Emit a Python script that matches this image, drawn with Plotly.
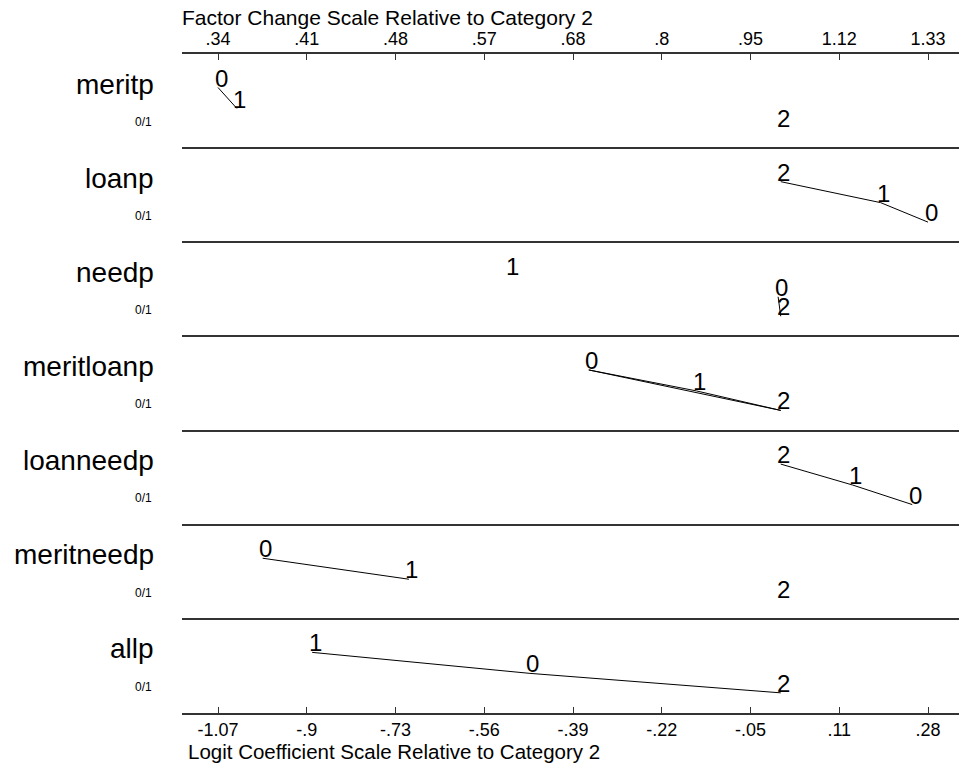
import numpy as np
import plotly.graph_objects as go

# ---------------- data ----------------
variables = ["meritp", "loanp", "needp", "meritloanp", "loanneedp", "meritneedp", "allp"]
units = ["0/1", "0/1", "0/1", "0/1", "0/1", "0/1", "0/1"]
categories = ["0", "1", "2"]
coef_cat0 = [-1.07, 0.28, -0.005, -0.365, 0.25, -0.985, -0.477]
coef_cat1 = [-1.034, 0.19, -0.515, -0.16, 0.137, -0.707, -0.891]
coef_cat2 = [0.0, 0.0, 0.0, 0.0, 0.0, 0.0, 0.0]
# pairs of categories joined by a line (not significantly different)
links = [
    [(0, 1)],
    [(2, 1), (1, 0)],
    [(0, 2)],
    [(0, 1), (1, 2), (0, 2)],
    [(2, 1), (1, 0)],
    [(0, 1)],
    [(1, 0), (0, 2)],
]
logit_tick_labels = ["-1.07", "-.9", "-.73", "-.56", "-.39", "-.22", "-.05", ".11", ".28"]
factor_tick_labels = [".34", ".41", ".48", ".57", ".68", ".8", ".95", "1.12", "1.33"]
top_title = "Factor Change Scale Relative to Category 2"
bottom_title = "Logit Coefficient Scale Relative to Category 2"

# ---------------- layout helpers ----------------
FONT = "Arial, Liberation Sans, sans-serif"
level_offsets = [0.356, 0.579, 0.786]  # vertical slot within each row, by rank of x

coefs = np.array([coef_cat0, coef_cat1, coef_cat2]).T  # rows: variables
cmin, cmax = coefs.min(), coefs.max()
tickvals = np.linspace(cmin, cmax, len(logit_tick_labels))
px_per_unit = 710 / (cmax - cmin)
xrange = [cmin - 36 / px_per_unit, cmax + 31 / px_per_unit]

fig = go.Figure()

for i, var in enumerate(variables):
    xs = coefs[i]
    order = np.argsort(xs, kind="stable")
    ys = np.empty(3)
    for rank, k in enumerate(order):
        ys[k] = i + level_offsets[rank]
    lx, ly = [], []
    for a, b in links[i]:
        lx += [xs[a], xs[b], None]
        ly += [ys[a], ys[b], None]
    fig.add_trace(go.Scatter(x=lx, y=ly, mode="lines",
                             line=dict(color="black", width=1),
                             hoverinfo="skip", showlegend=False))
    for k, cat in enumerate(categories):
        fig.add_annotation(x=xs[k], y=ys[k], xref="x", yref="y", text=cat,
                           showarrow=False, xanchor="center", yanchor="bottom",
                           xshift=3, yshift=-6,
                           font=dict(family=FONT, size=24, color="black"))
    fig.add_annotation(x=0, xref="paper", y=i + 0.32, yref="y", text=var,
                       showarrow=False, xanchor="right", yanchor="middle",
                       xshift=-26, font=dict(family=FONT, size=28, color="black"))
    fig.add_annotation(x=0, xref="paper", y=i + 0.72, yref="y", text=units[i],
                       showarrow=False, xanchor="right", yanchor="middle",
                       xshift=-28, font=dict(family=FONT, size=12, color="black"))

# invisible trace for top axis
fig.add_trace(go.Scatter(x=[cmin, cmax], y=[0, 0], xaxis="x2", mode="markers",
                         marker=dict(opacity=0), hoverinfo="skip", showlegend=False))

fig.add_annotation(x=0, xref="paper", y=1, yref="paper", yshift=37, xshift=-2,
                   text=top_title, showarrow=False, xanchor="left", yanchor="middle",
                   font=dict(family=FONT, size=21, color="black"))
fig.add_annotation(x=0, xref="paper", y=0, yref="paper", yshift=-38, xshift=4,
                   text=bottom_title, showarrow=False, xanchor="left", yanchor="middle",
                   font=dict(family=FONT, size=20.5, color="black"))

axis_common = dict(range=xrange, tickvals=tickvals, ticks="inside", ticklen=6,
                   tickcolor="#333", showline=True, linecolor="#333", linewidth=1.5,
                   showgrid=False, zeroline=False,
                   tickfont=dict(family=FONT, size=18, color="black"))
fig.update_layout(
    width=959, height=767,
    margin=dict(l=182, r=0, t=54, b=54),
    paper_bgcolor="white", plot_bgcolor="white",
    xaxis=dict(ticktext=logit_tick_labels, **axis_common),
    xaxis2=dict(ticktext=factor_tick_labels, overlaying="x", side="top",
                matches="x", **axis_common),
    yaxis=dict(range=[len(variables), 0], tickvals=list(range(1, len(variables))),
               showticklabels=False, showgrid=True, gridcolor="#333", gridwidth=1.5,
               zeroline=False, showline=False, ticks=""),
    showlegend=False,
)

fig.write_html("out.html")
